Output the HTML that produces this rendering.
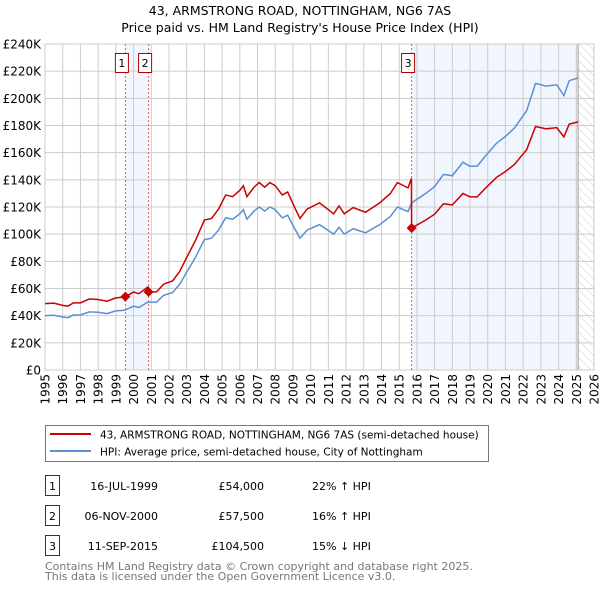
<!DOCTYPE html>
<html><head><meta charset="utf-8"><style>
body{margin:0;background:#fff;font-family:"Liberation Sans","DejaVu Sans",sans-serif;}
svg text{font-family:"DejaVu Sans","Liberation Sans",sans-serif;}
</style></head><body>
<svg id="c" width="600" height="590" viewBox="0 0 600 590" xmlns="http://www.w3.org/2000/svg">
<defs><pattern id="hatch" width="6" height="6" patternUnits="userSpaceOnUse" patternTransform="rotate(-45)"><line x1="0" y1="0" x2="0" y2="6" stroke="#ccc" stroke-width="1"/></pattern></defs>
<text x="300" y="15" text-anchor="middle" font-size="12.5">43, ARMSTRONG ROAD, NOTTINGHAM, NG6 7AS</text>
<text x="300" y="32" text-anchor="middle" font-size="12.5">Price paid vs. HM Land Registry's House Price Index (HPI)</text>
<g id="plot"></g>
<rect x="45.5" y="425.5" width="443" height="36" fill="#fff" stroke="#777"/>
<line x1="50" y1="434" x2="91" y2="434" stroke="#cc0000" stroke-width="2"/>
<text x="100" y="438.5" font-size="10.5">43, ARMSTRONG ROAD, NOTTINGHAM, NG6 7AS (semi-detached house)</text>
<line x1="50" y1="451" x2="91" y2="451" stroke="#5b8fd4" stroke-width="2"/>
<text x="100" y="455.5" font-size="10.5">HPI: Average price, semi-detached house, City of Nottingham</text>
<g id="table" font-size="11"></g>
<text x="45" y="570" font-size="11" fill="#777">Contains HM Land Registry data © Crown copyright and database right 2025.</text>
<text x="45" y="580" font-size="11" fill="#777">This data is licensed under the Open Government Licence v3.0.</text>
</svg>
<script>
const hpiYears=[1995.0,1995.5,1996.0,1996.3,1996.6,1997.0,1997.5,1998.0,1998.5,1999.0,1999.5,2000.0,2000.3,2000.8,2001.3,2001.7,2002.2,2002.6,2003.0,2003.5,2004.0,2004.4,2004.8,2005.2,2005.6,2006.0,2006.2,2006.4,2006.8,2007.1,2007.4,2007.7,2008.0,2008.4,2008.7,2009.1,2009.4,2009.8,2010.5,2011.3,2011.6,2011.9,2012.4,2013.1,2013.9,2014.5,2014.9,2015.5,2015.7,2016.5,2017.0,2017.5,2018.0,2018.6,2019.0,2019.4,2019.9,2020.5,2021.0,2021.5,2022.2,2022.7,2023.3,2023.9,2024.3,2024.6,2025.1];
const hpiValues=[40,40.3,39,38.5,40.5,40.5,42.8,42.5,41.5,43.5,44,47,46,50,50,55,57,63,72,83,96,97,103,112,111,115,118,111,117,120,117,120,118,112,114,104,97,103,107,100,105,100,104,101,107,113,120,116.6,123,130,135,144,143,153,150,150,158,167,172,178,191,211,209,210,202,213,215];
const saleLabels=["1","2","3"];
const saleYears=[1999.54,2000.85,2015.7];
const salePrices=[54,57.5,104.5];
const saleDates=["16-JUL-1999","06-NOV-2000","11-SEP-2015"];
const salePriceText=["£54,000","£57,500","£104,500"];
const saleHpiText=["22% ↑ HPI","16% ↑ HPI","15% ↓ HPI"];
const yTicks=[0,20,40,60,80,100,120,140,160,180,200,220,240];
const xTicks=[1995,1996,1997,1998,1999,2000,2001,2002,2003,2004,2005,2006,2007,2008,2009,2010,2011,2012,2013,2014,2015,2016,2017,2018,2019,2020,2021,2022,2023,2024,2025,2026];
const dataEnd=2025.1;

const L=45,R=594,T=44,B=370;
const X=y=>L+(y-1995)/31*(R-L);
const Y=v=>B-v/240*(B-T);
const NS="http://www.w3.org/2000/svg";
const plot=document.getElementById('plot');
function mk(tag,at,parent){const e=document.createElementNS(NS,tag);for(const k in at)e.setAttribute(k,at[k]);(parent||plot).appendChild(e);return e;}
function hpiAt(y){for(let i=1;i<hpiYears.length;i++){if(y<=hpiYears[i]){const t=(y-hpiYears[i-1])/(hpiYears[i]-hpiYears[i-1]);return hpiValues[i-1]+t*(hpiValues[i]-hpiValues[i-1]);}}return hpiValues[hpiValues.length-1];}

let e;
e=mk('rect',{x:X(saleYears[0]),y:T,width:X(saleYears[1])-X(saleYears[0]),height:B-T,fill:'#eef3fc',opacity:0.8});

e=mk('rect',{x:X(saleYears[2]),y:T,width:X(dataEnd)-X(saleYears[2]),height:B-T,fill:'#eef3fc',opacity:0.8});

e=mk('rect',{x:X(dataEnd),y:T,width:R-X(dataEnd),height:B-T,fill:'url(#hatch)'});

yTicks.forEach(v=>{mk('line',{x1:L,x2:R,y1:Y(v),y2:Y(v),stroke:'#ccc','stroke-width':1});
 e=mk('text',{x:L-4,y:Y(v)+4.5,'text-anchor':'end','font-size':12});e.textContent=v===0?'£0':'£'+v+'K';
 });
xTicks.forEach(y=>{mk('line',{x1:X(y),x2:X(y),y1:T,y2:B,stroke:'#ccc','stroke-width':1});
 e=mk('text',{x:0,y:0,'text-anchor':'end','font-size':12,transform:`translate(${X(y)+4.5},${B+4}) rotate(-90)`});e.textContent=y;
 });
mk('rect',{x:L,y:T,width:R-L,height:B-T,fill:'none',stroke:'#ccc'});
mk('line',{x1:X(dataEnd),x2:X(dataEnd),y1:T,y2:B,stroke:'#999','stroke-width':1});
saleYears.forEach((s,i)=>{mk('line',{x1:X(s),x2:X(s),y1:T,y2:B,stroke:'#e06060','stroke-width':1,'stroke-dasharray':'2,2'});});
e=mk('polyline',{points:hpiYears.map((y,i)=>X(y)+','+Y(hpiValues[i])).join(' '),fill:'none',stroke:'#5b8fd4','stroke-width':1.5});

const ptsR=[];
function factor(y){let k=0;for(let i=0;i<saleYears.length;i++){if(y>=saleYears[i])k=i;}return salePrices[k]/hpiAt(saleYears[k]);}
const allY=hpiYears.concat(saleYears).concat(saleYears.map(s=>s-0.01)).sort((a,b)=>a-b);
allY.forEach(y=>{ptsR.push(X(y)+','+Y(hpiAt(y)*factor(y)));});
e=mk('polyline',{points:ptsR.join(' '),fill:'none',stroke:'#cc0000','stroke-width':1.5});

saleYears.forEach((s,i)=>{
 const cx=X(s),cy=Y(salePrices[i]);
 e=mk('polygon',{points:`${cx},${cy-5} ${cx+5},${cy} ${cx},${cy+5} ${cx-5},${cy}`,fill:'#cc0000'});
 
 e=mk('rect',{x:cx-10,y:53.5,width:13,height:19,fill:'#fff',stroke:'#b00000'});
 
 e=mk('text',{x:cx-3.5,y:67,'text-anchor':'middle','font-size':11});e.textContent=saleLabels[i];
});
const tb=document.getElementById('table');
saleYears.forEach((s,i)=>{
 const y0=476+i*30;
 e=mk('rect',{x:45.5,y:y0-0.5,width:14,height:20,fill:'#fff',stroke:'#b00000'},tb);
 
 e=mk('text',{x:52.5,y:y0+14,'text-anchor':'middle'},tb);e.textContent=saleLabels[i];
 e=mk('text',{x:158,y:y0+14,'text-anchor':'end'},tb);e.textContent=saleDates[i];
 
 e=mk('text',{x:264,y:y0+14,'text-anchor':'end'},tb);e.textContent=salePriceText[i];
 
 e=mk('text',{x:312,y:y0+14},tb);e.textContent=saleHpiText[i];
 
});
</script>
</body></html>
